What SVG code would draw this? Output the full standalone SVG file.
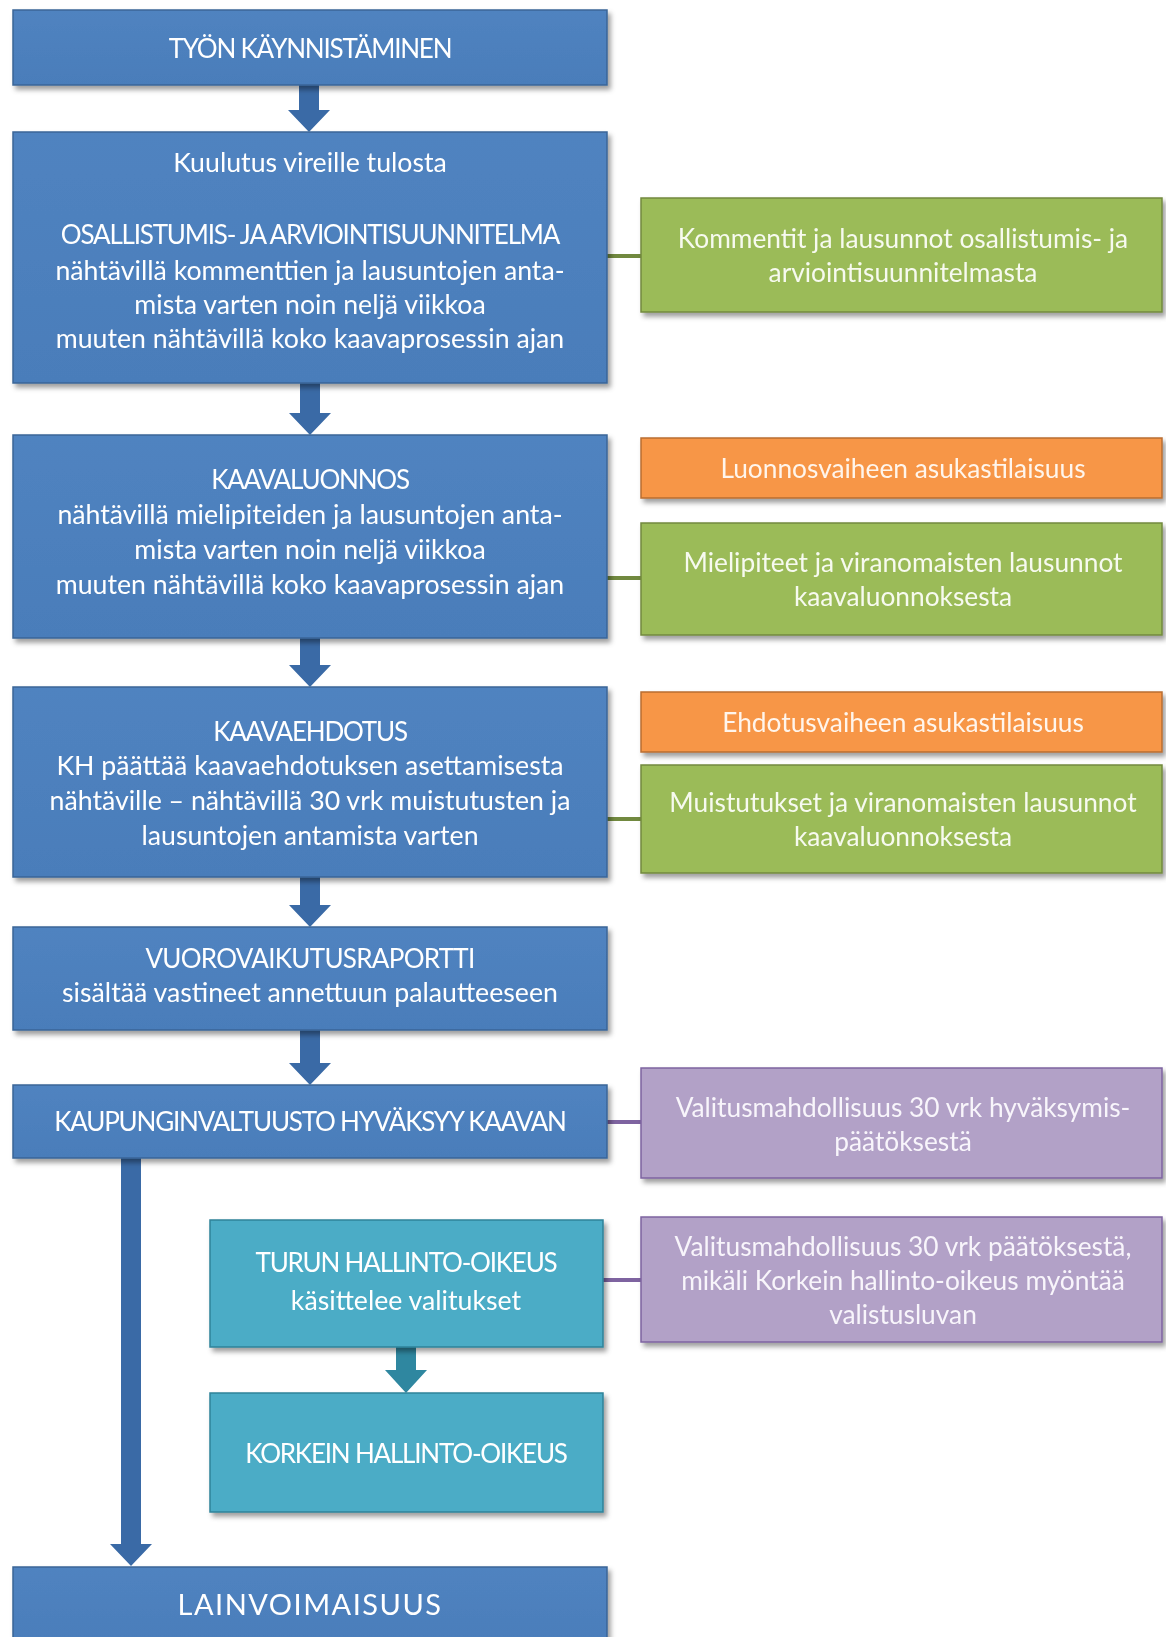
<svg xmlns="http://www.w3.org/2000/svg" width="1166" height="1637" viewBox="0 0 1166 1637">
<defs>
<filter id="sh" x="-5%" y="-10%" width="115%" height="130%">
<feDropShadow dx="3" dy="4" stdDeviation="2.5" flood-color="#000" flood-opacity="0.38"/>
</filter>
<linearGradient id="gBlue" x1="0" y1="0" x2="0" y2="1">
<stop offset="0" stop-color="#5083C0"/><stop offset="1" stop-color="#4A7DBA"/>
</linearGradient>
</defs>
<style>
text{font-family:Lato,"Open Sans","Liberation Sans",sans-serif;text-anchor:middle;fill:#FFFFFF;font-size:24px}
.blue{fill:url(#gBlue);stroke:#3A6597;stroke-width:1.5}
.green{fill:#9BBB59;stroke:#71893F;stroke-width:1.5}
.orange{fill:#F79646;stroke:#B96D30;stroke-width:1.5}
.purple{fill:#B2A1C7;stroke:#7E63A0;stroke-width:1.5}
.teal{fill:#4BACC6;stroke:#2F8299;stroke-width:1.5}
.arrow{fill:#3A6AA6}
.tarrow{fill:#2F87A0}
.t{font-size:26px;letter-spacing:-1.2px}
.b{font-size:26.7px}
.big{font-size:29px;letter-spacing:1.5px}
.r{font-size:26.3px;fill:#F7FAEF}
.ro{font-size:26.3px;fill:#FFF5EC}
.rp{font-size:26.3px;fill:#F8F5FB}
.c{stroke-width:4;fill:none}
</style>
<rect width="1166" height="1637" fill="#FFFFFF"/>

<g id="connectors">
<polygon class="arrow" points="299,85 319,85 319,110 330,110 309,132 288,110 299,110"/>
<polygon class="arrow" points="300,383 320,383 320,413 331,413 310,435 289,413 300,413"/>
<polygon class="arrow" points="300,638 320,638 320,665 331,665 310,687 289,665 300,665"/>
<polygon class="arrow" points="300,877 320,877 320,905 331,905 310,927 289,905 300,905"/>
<polygon class="arrow" points="300,1030 320,1030 320,1063 331,1063 310,1085 289,1063 300,1063"/>
<polygon class="arrow" points="121,1158 141,1158 141,1544 152,1544 131,1566 110,1544 121,1544"/>
<polygon class="tarrow" points="396,1347 416,1347 416,1370 427,1370 406,1393 385,1370 396,1370"/>
<line class="c" x1="607" y1="256" x2="641" y2="256" stroke="#71893F"/>
<line class="c" x1="607" y1="578" x2="641" y2="578" stroke="#71893F"/>
<line class="c" x1="607" y1="819" x2="641" y2="819" stroke="#71893F"/>
<line class="c" x1="607" y1="1122" x2="641" y2="1122" stroke="#7E63A0"/>
<line class="c" x1="603" y1="1280" x2="641" y2="1280" stroke="#7E63A0"/>
</g>

<g id="n1" filter="url(#sh)">
<rect class="blue" x="13" y="10" width="594" height="75"/>
<text class="t" x="310" y="58">TYÖN KÄYNNISTÄMINEN</text>
</g>

<g id="n2" filter="url(#sh)">
<rect class="blue" x="13" y="132" width="594" height="251"/>
<text class="b" x="310" y="172">Kuulutus vireille tulosta</text>
<text class="t" x="310" y="244">OSALLISTUMIS- JA ARVIOINTISUUNNITELMA</text>
<text class="b" x="310" y="280">nähtävillä kommenttien ja lausuntojen anta-</text>
<text class="b" x="310" y="314">mista varten noin neljä viikkoa</text>
<text class="b" x="310" y="348">muuten nähtävillä koko kaavaprosessin ajan</text>
</g>

<g id="n3" filter="url(#sh)">
<rect class="green" x="641" y="198" width="521" height="114"/>
<text class="r" x="903" y="248">Kommentit ja lausunnot osallistumis- ja</text>
<text class="r" x="903" y="282">arviointisuunnitelmasta</text>
</g>

<g id="n4" filter="url(#sh)">
<rect class="blue" x="13" y="435" width="594" height="203"/>
<text class="t" x="310" y="489">KAAVALUONNOS</text>
<text class="b" x="310" y="524">nähtävillä mielipiteiden ja lausuntojen anta-</text>
<text class="b" x="310" y="559">mista varten noin neljä viikkoa</text>
<text class="b" x="310" y="594">muuten nähtävillä koko kaavaprosessin ajan</text>
</g>

<g id="n5" filter="url(#sh)">
<rect class="orange" x="641" y="438" width="521" height="60"/>
<text class="ro" x="903" y="478">Luonnosvaiheen asukastilaisuus</text>
</g>

<g id="n6" filter="url(#sh)">
<rect class="green" x="641" y="523" width="521" height="112"/>
<text class="r" x="903" y="572">Mielipiteet ja viranomaisten lausunnot</text>
<text class="r" x="903" y="606">kaavaluonnoksesta</text>
</g>

<g id="n7" filter="url(#sh)">
<rect class="blue" x="13" y="687" width="594" height="190"/>
<text class="t" x="310" y="741">KAAVAEHDOTUS</text>
<text class="b" x="310" y="775">KH päättää kaavaehdotuksen asettamisesta</text>
<text class="b" x="310" y="810">nähtäville – nähtävillä 30 vrk muistutusten ja</text>
<text class="b" x="310" y="845">lausuntojen antamista varten</text>
</g>

<g id="n8" filter="url(#sh)">
<rect class="orange" x="641" y="692" width="521" height="60"/>
<text class="ro" x="903" y="732">Ehdotusvaiheen asukastilaisuus</text>
</g>

<g id="n9" filter="url(#sh)">
<rect class="green" x="641" y="765" width="521" height="108"/>
<text class="r" x="903" y="812">Muistutukset ja viranomaisten lausunnot</text>
<text class="r" x="903" y="846">kaavaluonnoksesta</text>
</g>

<g id="n10" filter="url(#sh)">
<rect class="blue" x="13" y="927" width="594" height="103"/>
<text class="t" x="310" y="968" style="letter-spacing:-0.7px">VUOROVAIKUTUSRAPORTTI</text>
<text class="b" x="310" y="1002">sisältää vastineet annettuun palautteeseen</text>
</g>

<g id="n11" filter="url(#sh)">
<rect class="blue" x="13" y="1085" width="594" height="73"/>
<text class="t" x="310" y="1131">KAUPUNGINVALTUUSTO HYVÄKSYY KAAVAN</text>
</g>

<g id="n12" filter="url(#sh)">
<rect class="purple" x="641" y="1068" width="521" height="110"/>
<text class="rp" x="903" y="1117">Valitusmahdollisuus 30 vrk hyväksymis-</text>
<text class="rp" x="903" y="1151">päätöksestä</text>
</g>

<g id="n13" filter="url(#sh)">
<rect class="teal" x="210" y="1220" width="393" height="127"/>
<text class="t" x="406" y="1272">TURUN HALLINTO-OIKEUS</text>
<text class="b" x="406" y="1310">käsittelee valitukset</text>
</g>

<g id="n14" filter="url(#sh)">
<rect class="purple" x="641" y="1217" width="521" height="125"/>
<text class="rp" x="903" y="1256">Valitusmahdollisuus 30 vrk päätöksestä,</text>
<text class="rp" x="903" y="1290">mikäli Korkein hallinto-oikeus myöntää</text>
<text class="rp" x="903" y="1324">valistusluvan</text>
</g>

<g id="n15" filter="url(#sh)">
<rect class="teal" x="210" y="1393" width="393" height="119"/>
<text class="t" x="406" y="1463">KORKEIN HALLINTO-OIKEUS</text>
</g>

<g id="n16" filter="url(#sh)">
<rect class="blue" x="13" y="1567" width="594" height="80"/>
<text class="big" x="310" y="1615">LAINVOIMAISUUS</text>
</g>
</svg>
